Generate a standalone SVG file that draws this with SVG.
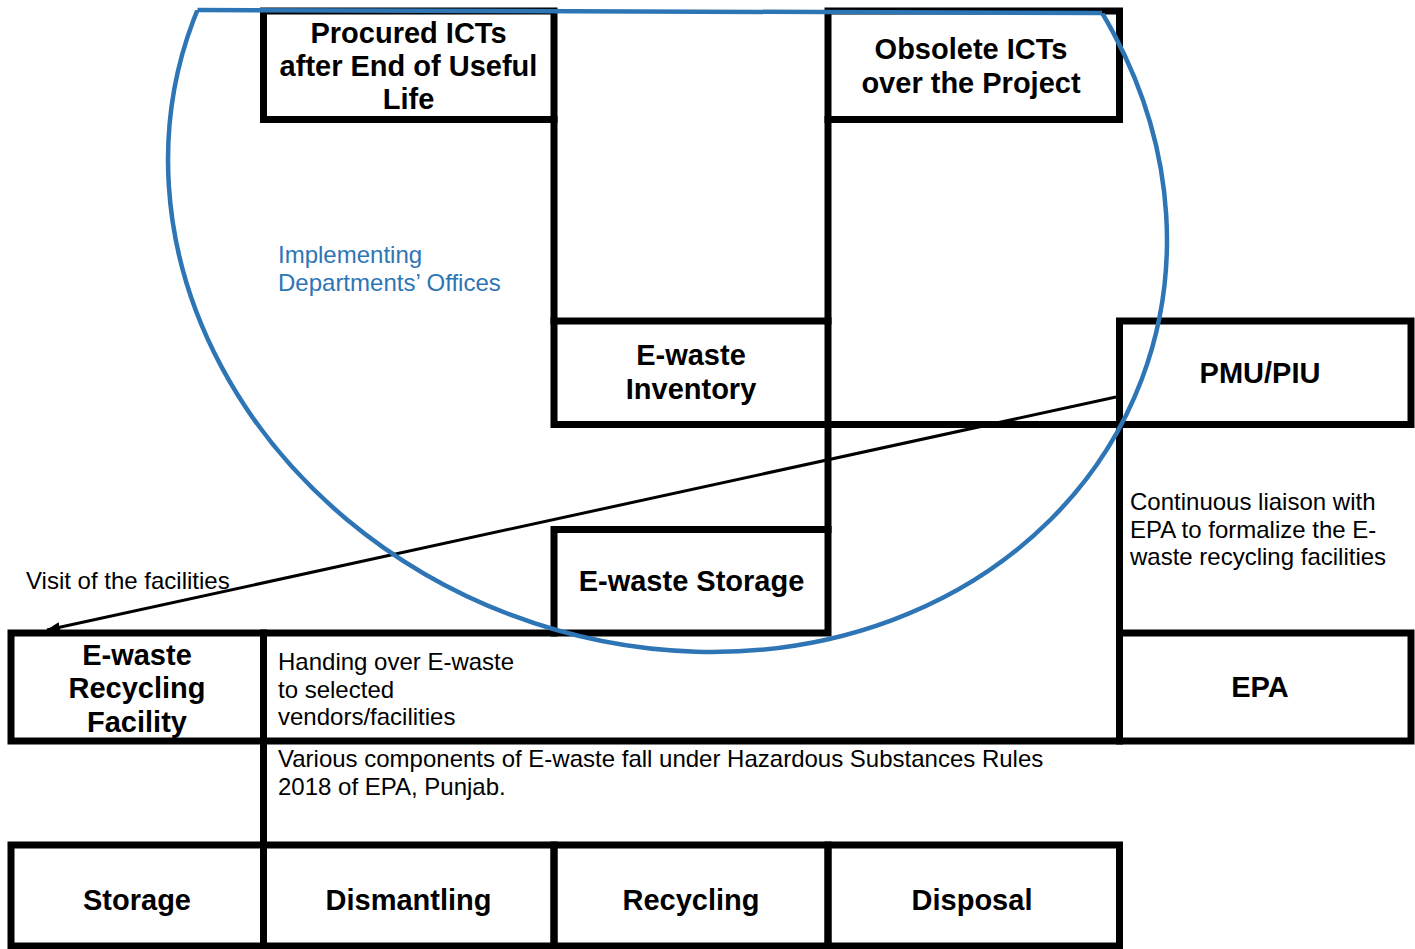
<svg xmlns="http://www.w3.org/2000/svg" width="1415" height="949" viewBox="0 0 1415 949">
<style>
.box{fill:none;stroke:#000;stroke-width:7}
.ln{fill:none;stroke:#000;stroke-width:7;stroke-linecap:square}
.b{font-family:"Liberation Sans",Arial,sans-serif;font-weight:bold;font-size:29px;text-anchor:middle;fill:#000}
.r{font-family:"Liberation Sans",Arial,sans-serif;font-size:24px;fill:#000}
.blue{fill:#2E75B6}
.bnd{fill:none;stroke:#2E75B6;stroke-width:4.5}
</style>
<defs>
<marker id="ah" viewBox="0 0 14 10" refX="13" refY="5" markerWidth="14" markerHeight="10" markerUnits="userSpaceOnUse" orient="auto">
<path d="M0,0 L14,5 L0,10 Z" fill="#000"/>
</marker>
<clipPath id="below">
<polygon points="0,9.36 1415,14.01 1415,949 0,949"/>
</clipPath>
</defs>
<rect width="1415" height="949" fill="#fff"/>
<g id="grid-lines">
<line class="ln" x1="554" y1="119.5" x2="554" y2="321"/>
<line class="ln" x1="828" y1="119.5" x2="828" y2="321"/>
<line class="ln" x1="828" y1="424.5" x2="828" y2="529.5"/>
<line class="ln" x1="828" y1="424.5" x2="1119.5" y2="424.5"/>
<line class="ln" x1="1119.5" y1="424.5" x2="1119.5" y2="633"/>
<line class="ln" x1="263.5" y1="633" x2="554" y2="633"/>
<line class="ln" x1="263.5" y1="741" x2="1119.5" y2="741"/>
<line class="ln" x1="263.5" y1="741" x2="263.5" y2="845"/>
</g>
<g id="procured"><rect class="box" x="263.5" y="11" width="290.5" height="108.5"/>
<text class="b" x="408.5" y="43">Procured ICTs</text><text class="b" x="408.5" y="76">after End of Useful</text><text class="b" x="408.5" y="109">Life</text></g>
<g id="obsolete"><rect class="box" x="828" y="11" width="291.5" height="108.5"/>
<text class="b" x="971" y="59">Obsolete ICTs</text><text class="b" x="971" y="93">over the Project</text></g>
<g id="inventory"><rect class="box" x="554" y="321" width="274" height="103.5"/>
<text class="b" x="691" y="365">E-waste</text><text class="b" x="691" y="399">Inventory</text></g>
<g id="pmu"><rect class="box" x="1119.5" y="321" width="291.5" height="103.5"/>
<text class="b" x="1260" y="383">PMU/PIU</text></g>
<g id="ewaste-storage"><rect class="box" x="554" y="529.5" width="274" height="103.5"/>
<text class="b" x="691.5" y="591">E-waste Storage</text></g>
<g id="recycling-facility"><rect class="box" x="11" y="633" width="252.5" height="108"/>
<text class="b" x="137" y="665">E-waste</text><text class="b" x="137" y="698">Recycling</text><text class="b" x="137" y="732">Facility</text></g>
<g id="epa"><rect class="box" x="1119.5" y="633" width="291.5" height="108"/>
<text class="b" x="1260" y="697">EPA</text></g>
<g id="storage"><rect class="box" x="11" y="845" width="252.5" height="101"/>
<text class="b" x="137" y="910">Storage</text></g>
<g id="dismantling"><rect class="box" x="263.5" y="845" width="290.5" height="101"/>
<text class="b" x="408.5" y="910">Dismantling</text></g>
<g id="recycling"><rect class="box" x="554" y="845" width="274" height="101"/>
<text class="b" x="691" y="910">Recycling</text></g>
<g id="disposal"><rect class="box" x="828" y="845" width="291.5" height="101"/>
<text class="b" x="972" y="910">Disposal</text></g>
<g id="labels">
<text class="r blue" x="278" y="263">Implementing</text>
<text class="r blue" x="278" y="291">Departments’ Offices</text>
<text class="r" x="1130" y="510">Continuous liaison with</text>
<text class="r" x="1130" y="538">EPA to formalize the E-</text>
<text class="r" x="1130" y="565">waste recycling facilities</text>
<text class="r" x="26" y="589">Visit of the facilities</text>
<text class="r" x="278" y="670">Handing over E-waste</text>
<text class="r" x="278" y="697.5">to selected</text>
<text class="r" x="278" y="725">vendors/facilities</text>
<text class="r" x="278" y="767">Various components of E-waste fall under Hazardous Substances Rules</text>
<text class="r" x="278" y="794.5">2018 of EPA, Punjab.</text>
</g>
<g id="connectors">
<line x1="1116" y1="397" x2="47" y2="630" stroke="#000" stroke-width="3" marker-end="url(#ah)"/>
</g>
<g id="boundary">
<g clip-path="url(#below)">
<ellipse class="bnd" cx="667.5" cy="200" rx="507" ry="443.5" transform="rotate(20.76 667.5 200)"/>
</g>
<line class="bnd" x1="197.5" y1="10" x2="1102" y2="13"/>
</g>
</svg>
